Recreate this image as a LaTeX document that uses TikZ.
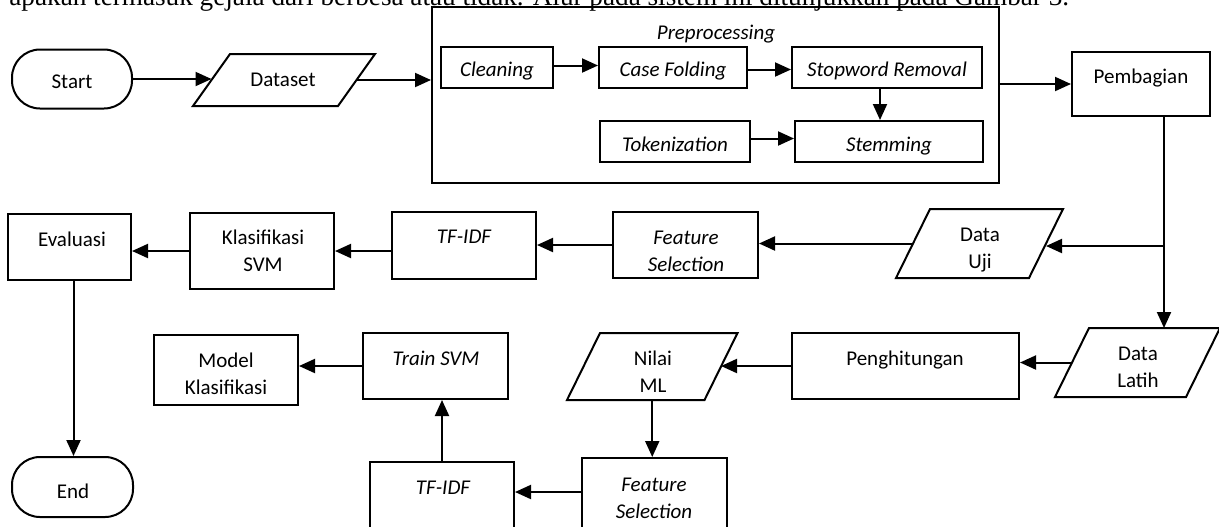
\documentclass[tikz,border=0pt]{standalone}
\usepackage{fontspec}
\setmainfont{Carlito}
\newfontfamily\bodyserif{Liberation Serif}
\usetikzlibrary{arrows.meta,calc}
\newcommand\twolines[2]{\vtop{\baselineskip=13.5pt\halign{\hfil##\hfil\cr#1\cr#2\cr}}}
\newcommand\paradraw[2]{%
  \draw[ln, line join=miter] ($(#1.south west)+(-#2/2,0)$) -- ($(#1.south east)+(-#2/2,0)$)
    -- ($(#1.north east)+(#2/2,0)$) -- ($(#1.north west)+(#2/2,0)$) -- cycle;}
\tikzset{
  ln/.style={line width=1pt},
  procbox/.style={draw, line width=1pt, rectangle, inner sep=0pt},
  term/.style={draw, line width=1pt, rectangle, rounded corners=14pt, inner sep=0pt},
  parahold/.style={rectangle, inner sep=0pt, outer sep=0pt},
  lbl/.style={anchor=base, inner sep=0pt, font=\fontsize{10.5}{13.5}\selectfont},
  ilbl/.style={anchor=base, inner sep=0pt, font=\fontsize{10.5}{13.5}\selectfont\itshape},
  flow/.style={line width=1pt, -{Triangle[length=8pt,width=7pt]}},
}
\begin{document}
\begin{tikzpicture}[x=0.5pt, y=-0.5pt]
\useasboundingbox (0,0) rectangle (1219,526);
\clip (0,0) rectangle (1219,526);
\fill[white] (0,0) rectangle (1219,526);

% clipped line of body text at the top
\node[anchor=base west, inner sep=0pt, font=\bodyserif\fontsize{13.6}{15}\selectfont] (toptext) at (9,5)
  {apakah termasuk gejala dari berbesa atau tidak. Alur pada sistem ini ditunjukkan pada Gambar 3.};

% ---- row 1
\node[term, minimum width=60pt, minimum height=29.5pt] (start) at (72,79) {};
\node[lbl] (startt) at (72,88) {Start};

\node[parahold, minimum width=72.5pt, minimum height=26pt] (dataset) at (284,80) {};
\paradraw{dataset}{37}
\node[lbl] (datasett) at (283,86) {Dataset};

\node[procbox, minimum width=283.5pt, minimum height=88pt] (pre) at (715.5,95) {};
\node[ilbl] (pret) at (716,39) {Preprocessing};

\node[procbox, minimum width=56pt, minimum height=20.5pt] (clean) at (497,67.5) {};
\node[ilbl] (cleant) at (497,76) {Cleaning};
\node[procbox, minimum width=74pt, minimum height=20.5pt] (case) at (673,67.5) {};
\node[ilbl] (caset) at (673,76) {Case Folding};
\node[procbox, minimum width=95pt, minimum height=20.5pt] (stop) at (887,67.5) {};
\node[ilbl] (stopt) at (887,76) {Stopword Removal};
\node[procbox, minimum width=75pt, minimum height=20.5pt] (tok) at (675,141.5) {};
\node[ilbl] (tokt) at (675,151) {Tokenization};
\node[procbox, minimum width=94pt, minimum height=20.5pt] (stem) at (889,141.5) {};
\node[ilbl] (stemt) at (889,151) {Stemming};

\node[procbox, minimum width=69pt, minimum height=32pt] (pemb) at (1141,84) {};
\node[lbl] (pembt) at (1141,83) {Pembagian};

% ---- row 2
\node[procbox, minimum width=61.5pt, minimum height=33pt] (ev) at (69.5,247) {};
\node[lbl] (evt) at (72,246) {Evaluasi};
\node[procbox, minimum width=72pt, minimum height=38pt] (kla) at (262,251) {};
\node[lbl] (klat) at (263,244) {\twolines{Klasifikasi}{SVM}};
\node[procbox, minimum width=72pt, minimum height=33.5pt] (tf1) at (464,245.5) {};
\node[ilbl] (tf1t) at (464,243) {TF-IDF};
\node[procbox, minimum width=72.5pt, minimum height=33pt] (fs1) at (685.5,245) {};
\node[ilbl] (fs1t) at (686,244) {\twolines{Feature}{Selection}};
\node[parahold, minimum width=66.5pt, minimum height=34.5pt] (uji) at (979.5,243.5) {};
\paradraw{uji}{34}
\node[lbl] (ujit) at (980,241) {\twolines{Data}{Uji}};

% ---- row 3
\node[procbox, minimum width=72pt, minimum height=35pt] (model) at (226,370) {};
\node[lbl] (modelt) at (226,367) {\twolines{Model}{Klasifikasi}};
\node[procbox, minimum width=72.5pt, minimum height=33pt] (train) at (435.5,366) {};
\node[ilbl] (traint) at (436,365) {Train SVM};
\node[parahold, minimum width=68.75pt, minimum height=33.5pt] (nilai) at (652.25,366.5) {};
\paradraw{nilai}{33}
\node[lbl] (nilait) at (653,365) {\twolines{Nilai}{ML}};
\node[procbox, minimum width=113.5pt, minimum height=33pt] (peng) at (905.5,366) {};
\node[lbl] (pengt) at (905,365) {Penghitungan};
\node[parahold, minimum width=65.5pt, minimum height=34.5pt] (latih) at (1137.5,362.5) {};
\paradraw{latih}{34}
\node[lbl] (latiht) at (1138,360) {\twolines{Data}{Latih}};

% ---- row 4
\node[term, minimum width=60.5pt, minimum height=30pt] (end) at (72.5,487) {};
\node[lbl] (endt) at (73,498) {End};
\node[procbox, minimum width=72pt, minimum height=37pt] (tf2) at (442,499) {};
\node[ilbl] (tf2t) at (443,494) {TF-IDF};
\node[procbox, minimum width=72.5pt, minimum height=39pt] (fs2) at (654.5,497) {};
\node[ilbl] (fs2t) at (654,491) {\twolines{Feature}{Selection}};

% ---- connectors
\draw[flow] (start.east) -- (start.east -| dataset.west);
\draw[flow] (dataset.east) -- (dataset.east -| pre.west);
\draw[flow] ($(clean.east)+(0,-2)$) coordinate (cle) -- (cle -| case.west);
\draw[flow] ($(case.east)+(0,2)$) coordinate (cae) -- (cae -| stop.west);
\draw[flow] ($(stop.south)+(-7,0)$) coordinate (sts) -- (sts |- stem.north);
\draw[flow] ($(tok.east)+(0,-3)$) coordinate (toe) -- (toe -| stem.west);
\draw[flow] (pre.east |- pemb.west) -- (pemb.west);
\coordinate (split) at (1164,246);
\draw[flow] ($(pemb.south)+(23,0)$) -- (split |- latih.north);
\draw[flow] (split) -- (split -| uji.east);
\draw[flow] (uji.west) -- (uji.west -| fs1.east);
\draw[flow] (fs1.west) -- (fs1.west -| tf1.east);
\draw[flow] (tf1.west |- kla.east) -- (kla.east);
\draw[flow] (kla.west) -- (kla.west -| ev.east);
\draw[flow] ($(ev.south)+(4,0)$) coordinate (evs) -- (evs |- end.north);
\draw[flow] (latih.west) -- (latih.west -| peng.east);
\draw[flow] (peng.west) -- (peng.west -| nilai.east);
\draw[flow] (nilai.south) -- (nilai.south |- fs2.north);
\draw[flow] ($(fs2.west)+(0,-5)$) coordinate (fsw) -- (fsw -| tf2.east);
\draw[flow] (tf2.north) -- (tf2.north |- train.south);
\draw[flow] (train.west) -- (train.west -| model.east);
\end{tikzpicture}
\end{document}
